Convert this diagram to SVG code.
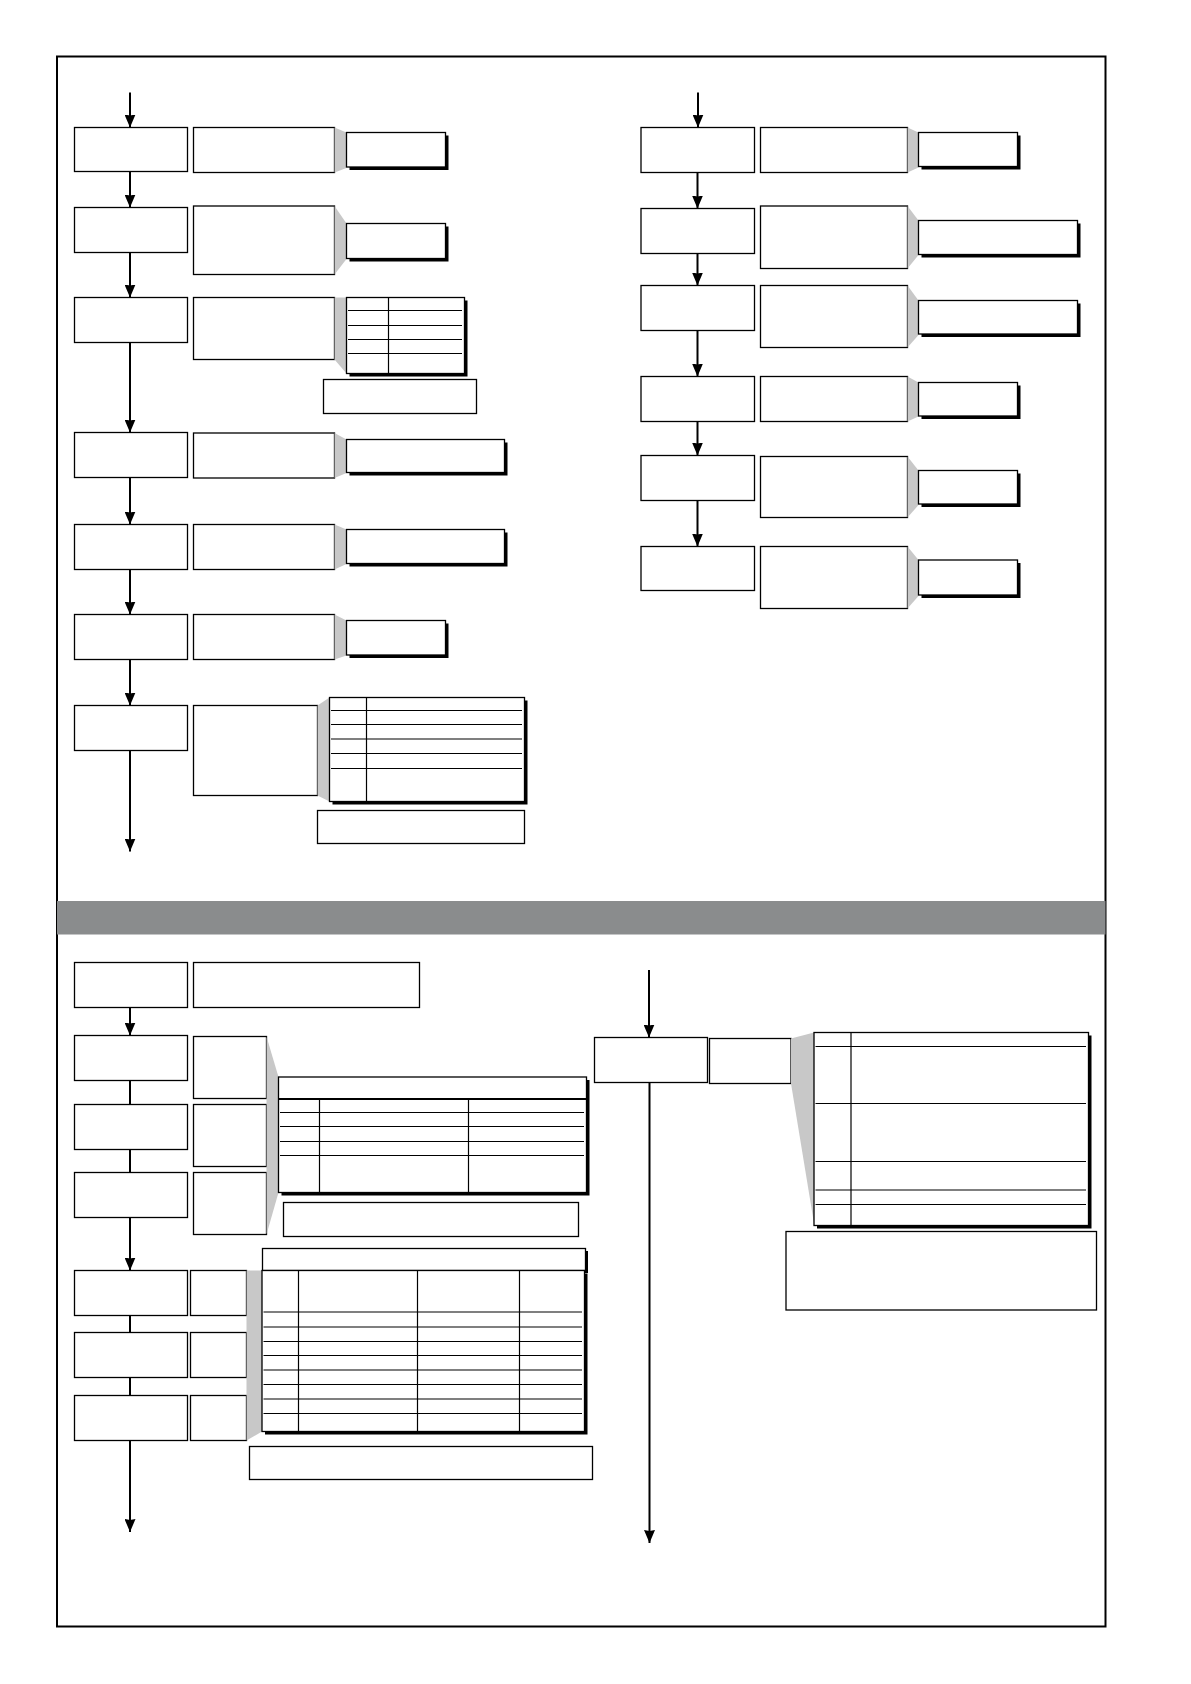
<svg xmlns="http://www.w3.org/2000/svg" width="1191" height="1684" viewBox="0 0 1191 1684">
<defs>
<style>
.box{fill:#fff;stroke:#000;stroke-width:1.3}
.sh{fill:#000}
.wg{fill:#c8c8c8}
.gl{stroke:#000;stroke-width:1.2;fill:none}
.hl{stroke:#000;stroke-width:2.2;fill:none}
.cn{stroke:#000;stroke-width:2;fill:none}
.ar{stroke:#000;stroke-width:2;fill:none;marker-end:url(#ah)}
</style>
<marker id="ah" markerUnits="userSpaceOnUse" viewBox="0 0 13 11" refX="13" refY="5.5" markerWidth="13" markerHeight="11" orient="auto">
<path d="M0,0 L13,5.5 L0,11 L1,5.5 z" fill="#000"/>
</marker>
</defs>
<rect width="1191" height="1684" fill="#fff"/>
<g id="frame">
<rect x="57" y="56.5" width="1048.5" height="1570" fill="none" stroke="#000" stroke-width="2"/>
<rect x="57" y="901" width="1048.5" height="33.5" fill="#8a8c8d"/>
</g>

<g id="connectors">
<line class="ar" x1="130" y1="92.5" x2="130" y2="127.5"/>
<line class="ar" x1="130" y1="171.5" x2="130" y2="207.5"/>
<line class="ar" x1="130" y1="252.5" x2="130" y2="297.5"/>
<line class="ar" x1="130" y1="342.5" x2="130" y2="432.5"/>
<line class="ar" x1="130" y1="477.5" x2="130" y2="524.5"/>
<line class="ar" x1="130" y1="569.5" x2="130" y2="614.5"/>
<line class="ar" x1="130" y1="659.5" x2="130" y2="705.5"/>
<line class="ar" x1="130" y1="750.5" x2="130" y2="851.5"/>
<line class="ar" x1="698" y1="92.5" x2="698" y2="127.5"/>
<line class="ar" x1="697.5" y1="172.5" x2="697.5" y2="208.5"/>
<line class="ar" x1="697.5" y1="253.5" x2="697.5" y2="285.5"/>
<line class="ar" x1="697.5" y1="330.5" x2="697.5" y2="376.5"/>
<line class="ar" x1="697.5" y1="421.5" x2="697.5" y2="455.5"/>
<line class="ar" x1="697.5" y1="500.5" x2="697.5" y2="546.5"/>
<line class="ar" x1="130" y1="1007.5" x2="130" y2="1035.5"/>
<line class="cn" x1="130" y1="1080.5" x2="130" y2="1104.5"/>
<line class="cn" x1="130" y1="1149.5" x2="130" y2="1172.5"/>
<line class="ar" x1="130" y1="1217.5" x2="130" y2="1270.5"/>
<line class="cn" x1="130" y1="1315.5" x2="130" y2="1332.5"/>
<line class="cn" x1="130" y1="1377.5" x2="130" y2="1395.5"/>
<line class="ar" x1="130" y1="1440.5" x2="130" y2="1532"/>
<line class="ar" x1="649" y1="970" x2="649" y2="1037.5"/>
<line class="ar" x1="649.5" y1="1082.5" x2="649.5" y2="1543"/>
</g>

<g id="L1">
<rect class="box" x="74.5" y="127.5" width="113" height="44"/>
<rect class="box" x="193.5" y="127.5" width="141" height="45"/>
<polygon class="wg" points="334.5,127.5 346.5,132.5 346.5,168 334.5,172.5"/>
<rect class="sh" x="349.5" y="135.5" width="99" height="34.5"/>
<rect class="box" x="346.5" y="132.5" width="99" height="34.5"/>
</g>
<g id="L2">
<rect class="box" x="74.5" y="207.5" width="113" height="45"/>
<rect class="box" x="193.5" y="206" width="141" height="68.5"/>
<polygon class="wg" points="334.5,206 346.5,223.5 346.5,259 334.5,274.5"/>
<rect class="sh" x="349.5" y="226.5" width="99" height="35"/>
<rect class="box" x="346.5" y="223.5" width="99" height="35"/>
</g>
<g id="L3">
<rect class="box" x="74.5" y="297.5" width="113" height="45"/>
<rect class="box" x="193.5" y="297.5" width="141" height="62"/>
<polygon class="wg" points="334.5,297.5 346.5,297.5 346.5,373.5 334.5,359.5"/>
<rect class="sh" x="349.5" y="300.5" width="118" height="76"/>
<rect class="box" x="346.5" y="297.5" width="118" height="76"/>
<line class="gl" x1="388.5" y1="297.5" x2="388.5" y2="373.5"/>
<path class="gl" d="M348,310.5H462M348,325.5H462M348,339.5H462M348,353.5H462"/>
<rect class="box" x="323.5" y="379.5" width="153" height="34"/>
</g>
<g id="L4">
<rect class="box" x="74.5" y="432.5" width="113" height="45"/>
<rect class="box" x="193.5" y="433" width="141" height="45"/>
<polygon class="wg" points="334.5,433 346.5,439.5 346.5,473 334.5,478"/>
<rect class="sh" x="349.5" y="442.5" width="158" height="33"/>
<rect class="box" x="346.5" y="439.5" width="158" height="33"/>
</g>
<g id="L5">
<rect class="box" x="74.5" y="524.5" width="113" height="45"/>
<rect class="box" x="193.5" y="524.5" width="141" height="45"/>
<polygon class="wg" points="334.5,524.5 346.5,529.5 346.5,564 334.5,569.5"/>
<rect class="sh" x="349.5" y="532.5" width="158" height="34"/>
<rect class="box" x="346.5" y="529.5" width="158" height="34"/>
</g>
<g id="L6">
<rect class="box" x="74.5" y="614.5" width="113" height="45"/>
<rect class="box" x="193.5" y="614.5" width="141" height="45"/>
<polygon class="wg" points="334.5,614.5 346.5,620.5 346.5,655.5 334.5,659.5"/>
<rect class="sh" x="349.5" y="623.5" width="99" height="34.5"/>
<rect class="box" x="346.5" y="620.5" width="99" height="34.5"/>
</g>
<g id="L7">
<rect class="box" x="74.5" y="705.5" width="113" height="45"/>
<rect class="box" x="193.5" y="705.5" width="124" height="90"/>
<polygon class="wg" points="317.5,705.5 329.5,697.5 329.5,801.5 317.5,795.5"/>
<rect class="sh" x="332.5" y="700.5" width="195" height="104"/>
<rect class="box" x="329.5" y="697.5" width="195" height="104"/>
<line class="gl" x1="366.5" y1="697.5" x2="366.5" y2="801.5"/>
<path class="gl" d="M331,710.5H522M331,724.5H522M331,739H522M331,753.5H522M331,768.5H522"/>
<rect class="box" x="317.5" y="810.5" width="207" height="33"/>
</g>

<g id="R1">
<rect class="box" x="641" y="127.5" width="113.5" height="45"/>
<rect class="box" x="760.5" y="127.5" width="147" height="45"/>
<polygon class="wg" points="907.5,127.5 918.5,132.5 918.5,167.5 907.5,172.5"/>
<rect class="sh" x="921.5" y="135.5" width="99" height="34"/>
<rect class="box" x="918.5" y="132.5" width="99" height="34"/>
</g>
<g id="R2">
<rect class="box" x="641" y="208.5" width="113.5" height="45"/>
<rect class="box" x="760.5" y="206" width="147" height="62.5"/>
<polygon class="wg" points="907.5,206 918.5,220.5 918.5,255 907.5,268.5"/>
<rect class="sh" x="921.5" y="223.5" width="159" height="34"/>
<rect class="box" x="918.5" y="220.5" width="159" height="34"/>
</g>
<g id="R3">
<rect class="box" x="641" y="285.5" width="113.5" height="45"/>
<rect class="box" x="760.5" y="285.5" width="147" height="62"/>
<polygon class="wg" points="907.5,285.5 918.5,300.5 918.5,335 907.5,347.5"/>
<rect class="sh" x="921.5" y="303.5" width="159" height="33.5"/>
<rect class="box" x="918.5" y="300.5" width="159" height="33.5"/>
</g>
<g id="R4">
<rect class="box" x="641" y="376.5" width="113.5" height="45"/>
<rect class="box" x="760.5" y="376.5" width="147" height="45"/>
<polygon class="wg" points="907.5,376.5 918.5,382.5 918.5,416.5 907.5,421.5"/>
<rect class="sh" x="921.5" y="385.5" width="99" height="33.5"/>
<rect class="box" x="918.5" y="382.5" width="99" height="33.5"/>
</g>
<g id="R5">
<rect class="box" x="641" y="455.5" width="113.5" height="45"/>
<rect class="box" x="760.5" y="456.5" width="147" height="61"/>
<polygon class="wg" points="907.5,456.5 918.5,470.5 918.5,505 907.5,517.5"/>
<rect class="sh" x="921.5" y="473.5" width="99" height="33.5"/>
<rect class="box" x="918.5" y="470.5" width="99" height="33.5"/>
</g>
<g id="R6">
<rect class="box" x="641" y="546.5" width="113.5" height="44"/>
<rect class="box" x="760.5" y="546.5" width="147" height="62"/>
<polygon class="wg" points="907.5,546.5 918.5,560 918.5,596 907.5,608.5"/>
<rect class="sh" x="921.5" y="563" width="99" height="35"/>
<rect class="box" x="918.5" y="560" width="99" height="35"/>
</g>

<g id="BA">
<rect class="box" x="74.5" y="962.5" width="113" height="45"/>
<rect class="box" x="193.5" y="962.5" width="226" height="45"/>
</g>
<g id="BB">
<rect class="box" x="74.5" y="1035.5" width="113" height="45"/>
<rect class="box" x="193.5" y="1036.5" width="73" height="62"/>
</g>
<g id="BC">
<rect class="box" x="74.5" y="1104.5" width="113" height="45"/>
<rect class="box" x="193.5" y="1104.5" width="73" height="62"/>
</g>
<g id="BD">
<rect class="box" x="74.5" y="1172.5" width="113" height="45"/>
<rect class="box" x="193.5" y="1172.5" width="73" height="62"/>
</g>
<g id="T1">
<polygon class="wg" points="266.5,1036.5 278.5,1077 278.5,1192.5 266.5,1234.5"/>
<rect class="sh" x="281.5" y="1080" width="308" height="115.5"/>
<rect class="box" x="278.5" y="1077" width="308" height="115.5"/>
<line class="hl" x1="278.5" y1="1099" x2="586.5" y2="1099"/>
<path class="gl" d="M319.5,1099V1192.5M468.5,1099V1192.5"/>
<path class="gl" d="M280,1112.5H584M280,1126.5H584M280,1141.5H584M280,1155.5H584"/>
<rect class="box" x="283.5" y="1202.5" width="295" height="34"/>
</g>
<g id="BF">
<rect class="box" x="74.5" y="1270.5" width="113" height="45"/>
<rect class="box" x="190.5" y="1270.5" width="56" height="45"/>
</g>
<g id="BG">
<rect class="box" x="74.5" y="1332.5" width="113" height="45"/>
<rect class="box" x="190.5" y="1332.5" width="56" height="45"/>
</g>
<g id="BH">
<rect class="box" x="74.5" y="1395.5" width="113" height="45"/>
<rect class="box" x="190.5" y="1395.5" width="56" height="45"/>
</g>
<g id="T2">
<polygon class="wg" points="246.5,1270.5 262,1270.5 262,1431.5 246.5,1440.5"/>
<rect class="sh" x="265" y="1251" width="323" height="22"/>
<rect class="box" x="262.5" y="1248.5" width="323" height="22"/>
<rect class="sh" x="265" y="1273.5" width="322.5" height="161"/>
<rect class="box" x="262" y="1270.5" width="322.5" height="161"/>
<path class="gl" d="M298.5,1270.5V1431.5M417.5,1270.5V1431.5M519.5,1270.5V1431.5"/>
<path class="gl" d="M263.5,1312H582M263.5,1327H582M263.5,1341.5H582M263.5,1355.5H582M263.5,1370H582M263.5,1384.5H582M263.5,1399H582M263.5,1413.5H582"/>
<rect class="box" x="249.5" y="1446.5" width="343" height="33"/>
</g>

<g id="BE">
<rect class="box" x="594.5" y="1037.5" width="113" height="45"/>
<rect class="box" x="709.5" y="1038.5" width="81.5" height="45"/>
</g>
<g id="T3">
<polygon class="wg" points="791,1038.5 814,1032.5 814,1223.5 791,1083.5"/>
<rect class="sh" x="817" y="1035.5" width="274.5" height="193"/>
<rect class="box" x="814" y="1032.5" width="274.5" height="193"/>
<line class="gl" x1="851" y1="1032.5" x2="851" y2="1225.5"/>
<path class="gl" d="M815.5,1046.5H1086M815.5,1103.5H1086M815.5,1161.5H1086M815.5,1190H1086M815.5,1204.5H1086"/>
<rect class="box" x="786" y="1231.5" width="310.5" height="78.5"/>
</g>
</svg>
